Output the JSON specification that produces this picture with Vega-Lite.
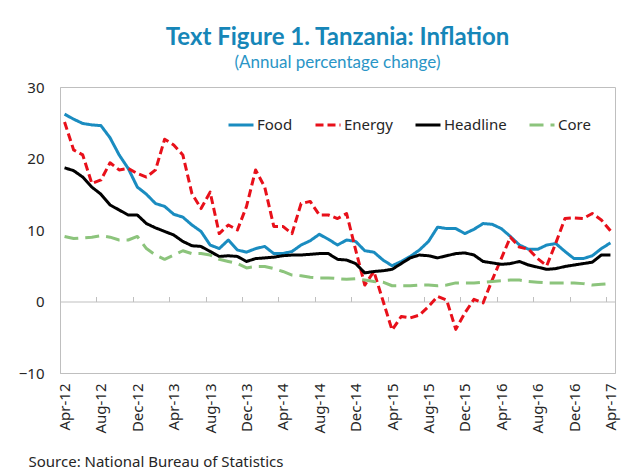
{
  "$schema": "https://vega.github.io/schema/vega-lite/v6.json",
  "width": 555,
  "height": 286,
  "autosize": "none",
  "padding": {"left": 60, "top": 87, "right": 20, "bottom": 96},
  "background": "white",
  "title": {
    "text": "Text Figure 1. Tanzania: Inflation",
    "subtitle": "(Annual percentage change)",
    "anchor": "middle",
    "frame": "group",
    "font": "Lato",
    "fontSize": 24,
    "fontWeight": "bold",
    "color": "#1686b8",
    "subtitleFont": "Lato",
    "subtitleFontSize": 17,
    "subtitleColor": "#2a95c6",
    "subtitlePadding": 5,
    "offset": 9
  },
  "config": {
    "view": {"stroke": "#bfbfbf", "strokeWidth": 1},
    "font": "Noto Sans"
  },
  "datasets": {
    "inflation": [
      {"i": 0, "m": "Apr-12", "Food": 26.2, "Energy": 25.1, "Headline": 18.7, "Core": 9.1},
      {"i": 1, "m": "May-12", "Food": 25.5, "Energy": 21.2, "Headline": 18.3, "Core": 8.8},
      {"i": 2, "m": "Jun-12", "Food": 24.9, "Energy": 20.5, "Headline": 17.4, "Core": 8.9},
      {"i": 3, "m": "Jul-12", "Food": 24.7, "Energy": 16.5, "Headline": 16.0, "Core": 9.0},
      {"i": 4, "m": "Aug-12", "Food": 24.6, "Energy": 17.0, "Headline": 15.0, "Core": 9.2},
      {"i": 5, "m": "Sep-12", "Food": 22.9, "Energy": 19.4, "Headline": 13.5, "Core": 9.0},
      {"i": 6, "m": "Oct-12", "Food": 20.5, "Energy": 18.4, "Headline": 12.8, "Core": 8.6},
      {"i": 7, "m": "Nov-12", "Food": 18.6, "Energy": 18.6, "Headline": 12.1, "Core": 8.6},
      {"i": 8, "m": "Dec-12", "Food": 16.0, "Energy": 17.9, "Headline": 12.1, "Core": 9.1},
      {"i": 9, "m": "Jan-13", "Food": 15.0, "Energy": 17.4, "Headline": 10.9, "Core": 7.4},
      {"i": 10, "m": "Feb-13", "Food": 13.7, "Energy": 18.4, "Headline": 10.3, "Core": 6.5},
      {"i": 11, "m": "Mar-13", "Food": 13.3, "Energy": 22.7, "Headline": 9.8, "Core": 5.9},
      {"i": 12, "m": "Apr-13", "Food": 12.2, "Energy": 21.9, "Headline": 9.3, "Core": 6.5},
      {"i": 13, "m": "May-13", "Food": 11.8, "Energy": 20.5, "Headline": 8.4, "Core": 7.1},
      {"i": 14, "m": "Jun-13", "Food": 10.7, "Energy": 15.1, "Headline": 7.8, "Core": 6.7},
      {"i": 15, "m": "Jul-13", "Food": 9.8, "Energy": 13.0, "Headline": 7.7, "Core": 6.7},
      {"i": 16, "m": "Aug-13", "Food": 7.9, "Energy": 15.3, "Headline": 7.0, "Core": 6.5},
      {"i": 17, "m": "Sep-13", "Food": 7.4, "Energy": 9.5, "Headline": 6.3, "Core": 5.9},
      {"i": 18, "m": "Oct-13", "Food": 8.6, "Energy": 10.7, "Headline": 6.4, "Core": 5.6},
      {"i": 19, "m": "Nov-13", "Food": 7.2, "Energy": 10.0, "Headline": 6.3, "Core": 5.3},
      {"i": 20, "m": "Dec-13", "Food": 6.9, "Energy": 13.3, "Headline": 5.6, "Core": 4.7},
      {"i": 21, "m": "Jan-14", "Food": 7.4, "Energy": 18.4, "Headline": 6.0, "Core": 4.9},
      {"i": 22, "m": "Feb-14", "Food": 7.7, "Energy": 16.0, "Headline": 6.1, "Core": 4.9},
      {"i": 23, "m": "Mar-14", "Food": 6.7, "Energy": 10.5, "Headline": 6.2, "Core": 4.6},
      {"i": 24, "m": "Apr-14", "Food": 6.7, "Energy": 10.5, "Headline": 6.4, "Core": 4.2},
      {"i": 25, "m": "May-14", "Food": 7.0, "Energy": 9.5, "Headline": 6.5, "Core": 3.7},
      {"i": 26, "m": "Jun-14", "Food": 7.9, "Energy": 13.7, "Headline": 6.5, "Core": 3.6},
      {"i": 27, "m": "Jul-14", "Food": 8.5, "Energy": 14.0, "Headline": 6.6, "Core": 3.4},
      {"i": 28, "m": "Aug-14", "Food": 9.4, "Energy": 12.1, "Headline": 6.7, "Core": 3.3},
      {"i": 29, "m": "Sep-14", "Food": 8.7, "Energy": 12.1, "Headline": 6.7, "Core": 3.3},
      {"i": 30, "m": "Oct-14", "Food": 7.9, "Energy": 11.6, "Headline": 5.9, "Core": 3.2},
      {"i": 31, "m": "Nov-14", "Food": 8.6, "Energy": 12.3, "Headline": 5.8, "Core": 3.1},
      {"i": 32, "m": "Dec-14", "Food": 8.4, "Energy": 7.2, "Headline": 5.3, "Core": 3.2},
      {"i": 33, "m": "Jan-15", "Food": 7.1, "Energy": 2.3, "Headline": 4.0, "Core": 3.0},
      {"i": 34, "m": "Feb-15", "Food": 6.9, "Energy": 4.2, "Headline": 4.2, "Core": 2.8},
      {"i": 35, "m": "Mar-15", "Food": 5.8, "Energy": 0.1, "Headline": 4.3, "Core": 2.7},
      {"i": 36, "m": "Apr-15", "Food": 5.0, "Energy": -4.0, "Headline": 4.5, "Core": 2.2},
      {"i": 37, "m": "May-15", "Food": 5.6, "Energy": -2.1, "Headline": 5.3, "Core": 2.2},
      {"i": 38, "m": "Jun-15", "Food": 6.3, "Energy": -2.3, "Headline": 6.1, "Core": 2.2},
      {"i": 39, "m": "Jul-15", "Food": 7.2, "Energy": -1.9, "Headline": 6.5, "Core": 2.3},
      {"i": 40, "m": "Aug-15", "Food": 8.4, "Energy": -0.7, "Headline": 6.4, "Core": 2.3},
      {"i": 41, "m": "Sep-15", "Food": 10.4, "Energy": 0.7, "Headline": 6.1, "Core": 2.2},
      {"i": 42, "m": "Oct-15", "Food": 10.2, "Energy": 0.2, "Headline": 6.4, "Core": 2.3},
      {"i": 43, "m": "Nov-15", "Food": 10.2, "Energy": -3.9, "Headline": 6.7, "Core": 2.6},
      {"i": 44, "m": "Dec-15", "Food": 9.5, "Energy": -1.6, "Headline": 6.8, "Core": 2.6},
      {"i": 45, "m": "Jan-16", "Food": 10.1, "Energy": 0.3, "Headline": 6.5, "Core": 2.6},
      {"i": 46, "m": "Feb-16", "Food": 10.9, "Energy": -0.2, "Headline": 5.6, "Core": 2.7},
      {"i": 47, "m": "Mar-16", "Food": 10.8, "Energy": 3.0, "Headline": 5.4, "Core": 2.8},
      {"i": 48, "m": "Apr-16", "Food": 10.2, "Energy": 6.0, "Headline": 5.2, "Core": 2.9},
      {"i": 49, "m": "May-16", "Food": 9.1, "Energy": 9.0, "Headline": 5.3, "Core": 3.0},
      {"i": 50, "m": "Jun-16", "Food": 7.9, "Energy": 7.6, "Headline": 5.6, "Core": 3.0},
      {"i": 51, "m": "Jul-16", "Food": 7.3, "Energy": 7.3, "Headline": 5.1, "Core": 2.8},
      {"i": 52, "m": "Aug-16", "Food": 7.3, "Energy": 6.0, "Headline": 4.8, "Core": 2.7},
      {"i": 53, "m": "Sep-16", "Food": 7.9, "Energy": 5.0, "Headline": 4.5, "Core": 2.6},
      {"i": 54, "m": "Oct-16", "Food": 8.1, "Energy": 8.2, "Headline": 4.6, "Core": 2.6},
      {"i": 55, "m": "Nov-16", "Food": 7.0, "Energy": 11.6, "Headline": 4.9, "Core": 2.6},
      {"i": 56, "m": "Dec-16", "Food": 6.0, "Energy": 11.7, "Headline": 5.1, "Core": 2.6},
      {"i": 57, "m": "Jan-17", "Food": 6.0, "Energy": 11.6, "Headline": 5.3, "Core": 2.5},
      {"i": 58, "m": "Feb-17", "Food": 6.4, "Energy": 12.3, "Headline": 5.5, "Core": 2.3},
      {"i": 59, "m": "Mar-17", "Food": 7.4, "Energy": 11.4, "Headline": 6.5, "Core": 2.4},
      {"i": 60, "m": "Apr-17", "Food": 8.2, "Energy": 9.9, "Headline": 6.5, "Core": 2.5}
    ]
  },
  "data": {"name": "inflation"},
  "resolve": {"axis": {"x": "independent"}},
  "layer": [
    {
      "mark": {"type": "line", "strokeOpacity": 0},
      "encoding": {
        "x": {
          "field": "i",
          "type": "quantitative",
          "scale": {"domain": [-0.5, 60.5], "nice": false, "zero": false},
          "axis": {
            "orient": "top",
            "offset": -214.5,
            "values": [3.5, 7.5, 11.5, 15.5, 19.5, 23.5, 27.5, 31.5, 35.5, 39.5, 43.5, 47.5, 51.5, 55.5, 59.5],
            "labels": false,
            "grid": false,
            "domain": true,
            "domainColor": "#bfbfbf",
            "domainWidth": 1,
            "ticks": true,
            "tickColor": "#bfbfbf",
            "tickSize": 5,
            "title": null
          }
        },
        "y": {
          "datum": 0,
          "type": "quantitative",
          "scale": {"domain": [-10, 30], "nice": false},
          "axis": {
            "values": [-10, 0, 10, 20, 30],
            "labelFontSize": 15,
            "labelColor": "#262626",
            "labelPadding": 16,
            "ticks": false,
            "domain": true,
            "domainColor": "#bfbfbf",
            "grid": false,
            "title": null
          }
        }
      }
    },
    {
      "transform": [
        {"fold": ["Food", "Energy", "Headline", "Core"], "as": ["series", "value"]}
      ],
      "mark": {"type": "line", "strokeWidth": 3, "strokeJoin": "round"},
      "encoding": {
        "x": {
          "field": "i",
          "type": "quantitative",
          "scale": {"domain": [-0.5, 60.5], "nice": false, "zero": false},
          "axis": {
            "orient": "bottom",
            "values": [0, 4, 8, 12, 16, 20, 24, 28, 32, 36, 40, 44, 48, 52, 56, 60],
            "labelExpr": "['Apr-12','Aug-12','Dec-12','Apr-13','Aug-13','Dec-13','Apr-14','Aug-14','Dec-14','Apr-15','Aug-15','Dec-15','Apr-16','Aug-16','Dec-16','Apr-17'][round(datum.value/4)]",
            "labelAngle": -90,
            "labelAlign": "right",
            "labelBaseline": "middle",
            "labelFontSize": 15,
            "labelColor": "#262626",
            "labelPadding": 10,
            "labelFlush": false,
            "labelOverlap": false,
            "ticks": false,
            "domain": true,
            "domainColor": "#bfbfbf",
            "grid": false,
            "title": "Source: National Bureau of Statistics",
            "titleAnchor": "start",
            "titleAlign": "left",
            "titleBaseline": "alphabetic",
            "titleX": -32,
            "titleY": 93,
            "titleFontSize": 15,
            "titleFontWeight": "normal",
            "titleColor": "#262626"
          }
        },
        "y": {
          "field": "value",
          "type": "quantitative",
          "scale": {"domain": [-10, 30], "nice": false},
          "axis": {
            "values": [-10, 0, 10, 20, 30],
            "labelFontSize": 15,
            "labelColor": "#262626",
            "labelPadding": 16,
            "ticks": false,
            "domain": true,
            "domainColor": "#bfbfbf",
            "grid": false,
            "title": null
          }
        },
        "color": {
          "field": "series",
          "type": "nominal",
          "scale": {
            "domain": ["Food", "Energy", "Headline", "Core"],
            "range": ["#1a8cc0", "#e8101a", "#000000", "#8cc47c"]
          },
          "legend": {
            "title": null,
            "orient": "none",
            "legendX": 167,
            "legendY": 24,
            "direction": "horizontal",
            "symbolType": "stroke",
            "symbolSize": 625,
            "symbolStrokeWidth": 3,
            "labelFontSize": 15,
            "labelColor": "#262626",
            "labelOffset": 2,
            "columnPadding": 16,
            "padding": 0
          }
        },
        "strokeDash": {
          "field": "series",
          "type": "nominal",
          "scale": {
            "domain": ["Food", "Energy", "Headline", "Core"],
            "range": [[1, 0], [8, 4], [1, 0], [14, 7]]
          },
          "legend": {
            "title": null,
            "orient": "none",
            "legendX": 167,
            "legendY": 24,
            "direction": "horizontal",
            "symbolType": "stroke",
            "symbolSize": 625,
            "symbolStrokeWidth": 3,
            "labelFontSize": 15,
            "labelColor": "#262626",
            "labelOffset": 2,
            "columnPadding": 16,
            "padding": 0
          }
        },
        "detail": {"field": "series"}
      }
    }
  ]
}
